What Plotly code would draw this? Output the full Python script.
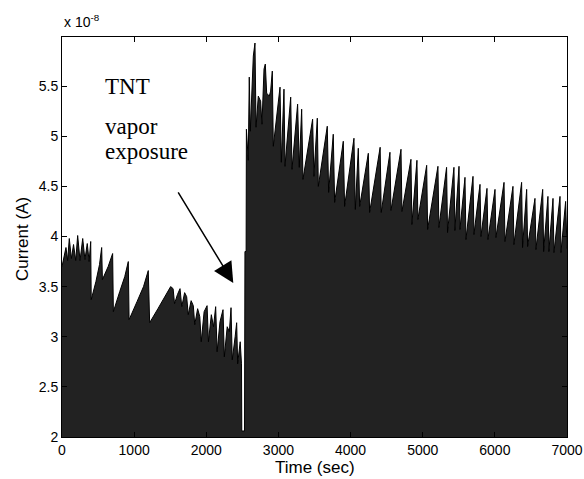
import plotly.graph_objects as go

# Upper envelope of the measured current trace (time in s, current in units of 1e-8 A)
time_s = [
    0, 25, 55, 78, 101, 130, 160, 190, 217, 250, 287, 318, 350, 376, 398,
    405, 470, 520, 550,
    560, 640, 702,
    712, 800, 870, 919,
    930, 1040, 1130, 1196,
    1215, 1330, 1430, 1506, 1540,
    1560, 1600, 1636, 1660, 1700, 1728, 1750, 1790, 1820, 1840, 1880, 1910,
    1930, 1970, 2011, 2030, 2070, 2100, 2130, 2150, 2190, 2232, 2250, 2290,
    2320, 2343, 2360, 2400, 2421, 2435, 2470, 2488,
    2492, 2530, 2536, 2552, 2556,
    2582, 2596, 2610, 2652, 2675, 2690, 2721, 2753, 2772, 2800, 2818, 2837,
    2873, 2892, 2915,
    2929, 3022, 3040, 3077, 3091, 3170, 3188, 3266, 3289, 3322, 3340, 3474,
    3492, 3539, 3553, 3677, 3696, 3760, 3779, 3899, 3917, 4047, 4066, 4107,
    4126, 4246, 4264, 4410, 4425, 4546, 4560, 4699, 4712, 4837, 4850, 4920,
    4933, 5055, 5068, 5211, 5224, 5331, 5344, 5433, 5446, 5503, 5516, 5586,
    5599, 5697, 5710, 5794, 5807, 5891, 5904, 6002, 6015, 6127, 6140, 6251,
    6264, 6371, 6384, 6441, 6454, 6556, 6569, 6663, 6676, 6736, 6749, 6806,
    6819, 6903, 6916, 6981, 6995, 7000,
]
current_e8 = [
    3.70, 3.80, 3.89, 3.76, 3.98, 3.78, 3.92, 3.76, 4.01, 3.76, 3.98, 3.77, 3.93, 3.75, 3.95,
    3.37, 3.55, 3.72, 3.89,
    3.57, 3.70, 3.83,
    3.25, 3.45, 3.60, 3.75,
    3.17, 3.35, 3.50, 3.66,
    3.14, 3.28, 3.40, 3.50, 3.48,
    3.33, 3.42, 3.48, 3.30, 3.44, 3.40, 3.22, 3.36, 3.31, 3.12, 3.28, 3.20,
    2.95, 3.25, 3.31, 2.95, 3.22, 3.10, 3.30, 2.85, 3.15, 3.27, 2.80, 3.10,
    3.05, 3.29, 2.77, 3.00, 3.14, 2.73, 2.95, 2.73,
    2.06, 2.06, 3.85, 3.85, 5.07,
    4.76, 5.59, 5.05, 5.80, 5.93, 5.09, 5.40, 5.35, 5.12, 5.67, 5.72, 5.43,
    5.40, 5.45, 5.65,
    4.90, 5.49, 4.74, 5.47, 4.70, 5.39, 4.67, 5.32, 4.69, 5.27, 4.57, 5.17,
    4.60, 5.18, 4.50, 5.10, 4.44, 5.02, 4.34, 4.95, 4.30, 4.98, 4.27, 4.88,
    4.30, 4.83, 4.24, 4.89, 4.24, 4.84, 4.26, 4.87, 4.25, 4.77, 4.12, 4.76,
    4.17, 4.71, 4.07, 4.70, 4.09, 4.69, 4.04, 4.69, 4.06, 4.70, 4.07, 4.59,
    3.97, 4.60, 4.02, 4.52, 4.00, 4.48, 3.97, 4.47, 3.99, 4.54, 3.95, 4.50,
    3.92, 4.54, 3.89, 4.47, 3.90, 4.38, 3.87, 4.47, 3.85, 4.40, 3.85, 4.38,
    3.84, 4.40, 3.84, 4.35, 3.88, 3.88,
]

x_ticks = [0, 1000, 2000, 3000, 4000, 5000, 6000, 7000]
y_ticks = [2, 2.5, 3, 3.5, 4, 4.5, 5, 5.5]
y_tick_text = ["2", "2.5", "3", "3.5", "4", "4.5", "5", "5.5"]

arrow_tip = (2374, 3.537)

fig = go.Figure()
fig.add_trace(go.Scatter(
    x=time_s, y=current_e8, mode="lines",
    line=dict(color="black", width=1),
    fill="tozeroy", fillcolor="#222222",
    hoverinfo="skip", showlegend=False,
))

sans = "Liberation Sans, Arial, sans-serif"
axis_font = dict(family=sans, size=14, color="black")
fig.update_layout(
    width=584, height=479,
    margin=dict(l=62, r=17, t=37, b=42, autoexpand=False),
    paper_bgcolor="white", plot_bgcolor="white",
    xaxis=dict(range=[0, 7000], tickvals=x_ticks, ticks="inside", ticklen=5,
               tickcolor="black", showline=True, linecolor="black", linewidth=1,
               mirror="ticks", showgrid=False, zeroline=False, tickfont=axis_font,
               automargin=False),
    yaxis=dict(range=[2, 5.99], tickvals=y_ticks, ticktext=y_tick_text,
               ticks="inside", ticklen=5, tickcolor="black", showline=True,
               linecolor="black", linewidth=1, mirror="ticks", showgrid=False,
               zeroline=False, tickfont=axis_font, automargin=False),
    font=axis_font,
)

serif = dict(family="Liberation Serif, Times New Roman, serif", size=23, color="black")
ann = [
    dict(text="Time (sec)", xref="paper", yref="paper", x=0.5, y=(437 - 468) / 400,
         xanchor="center", yanchor="middle", showarrow=False,
         font=dict(family=sans, size=17, color="black")),
    dict(text="Current (A)", xref="paper", yref="paper", x=(22 - 62) / 505, y=(437 - 239) / 400,
         xanchor="center", yanchor="middle", textangle=-90, showarrow=False,
         font=dict(family=sans, size=17, color="black")),
    dict(text="x 10<sup>-8</sup>", xref="paper", yref="paper", x=0, y=(437 - 32) / 400,
         xanchor="left", yanchor="bottom", showarrow=False,
         font=dict(family=sans, size=14, color="black")),
    dict(text="TNT", x=568, y=5.50, xanchor="left", yanchor="middle", showarrow=False, font=serif),
    dict(text="vapor", x=568, y=5.10, xanchor="left", yanchor="middle", showarrow=False, font=serif),
    dict(text="exposure", x=568, y=4.85, xanchor="left", yanchor="middle", showarrow=False, font=serif),
    dict(text="", x=arrow_tip[0], y=arrow_tip[1], ax=-56, ay=-92, showarrow=True,
         arrowhead=2, arrowsize=2.7, arrowwidth=1.5, arrowcolor="black"),
]
fig.update_layout(annotations=ann)

fig.write_html(
    "out.html",
    config={"displayModeBar": False, "responsive": False},
    post_script="document.body.style.margin='0';document.body.style.overflow='hidden';"
                "document.documentElement.style.overflow='hidden';",
)
